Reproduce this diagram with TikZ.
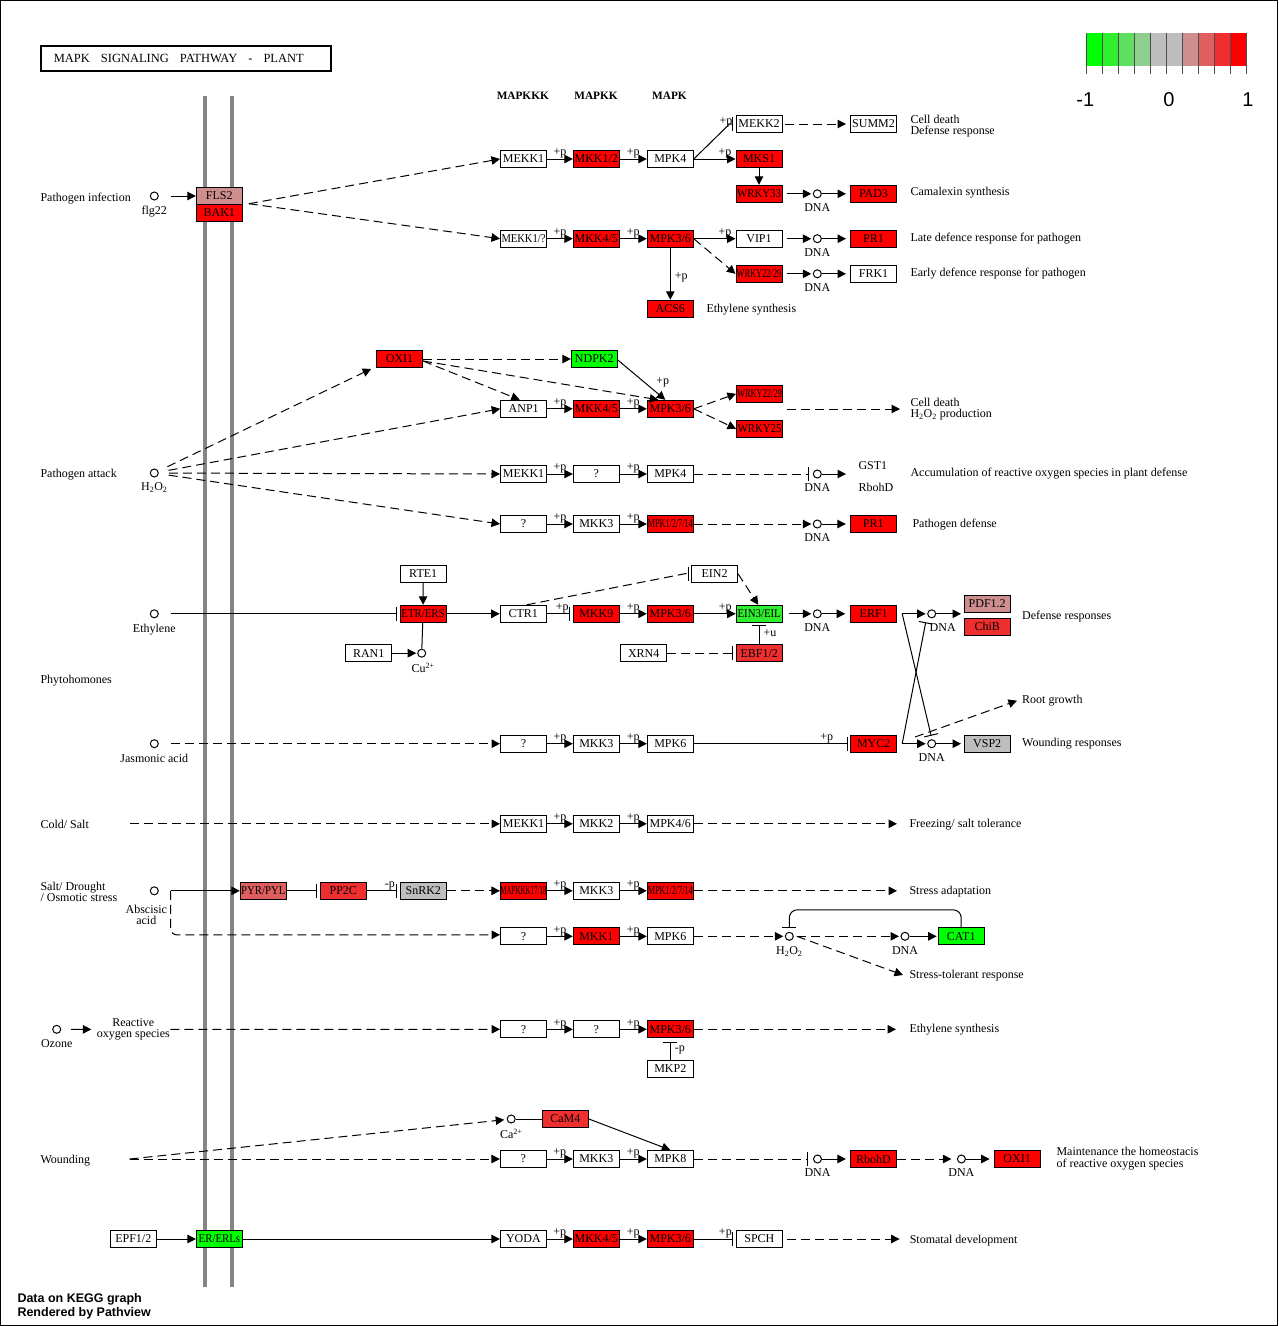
\documentclass[tikz,border=0pt]{standalone}
\usepackage{graphicx}
\usepackage{fontspec}
\setmainfont{Liberation Serif}
\setsansfont{Liberation Sans}
\usepackage{tikz}
\usetikzlibrary{arrows.meta,positioning,calc}

% expression scale (pathview bins)
\definecolor{c1}{HTML}{00FF00}
\definecolor{c2}{HTML}{2FEF2F}
\definecolor{c3}{HTML}{5FDF5F}
\definecolor{c4}{HTML}{8ECE8E}
\definecolor{c5}{HTML}{BEBEBE}
\definecolor{c6}{HTML}{BEBEBE}
\definecolor{c7}{HTML}{CE8E8E}
\definecolor{c8}{HTML}{DF5F5F}
\definecolor{c9}{HTML}{EF2F2F}
\definecolor{c10}{HTML}{FF0000}
\definecolor{membrane}{HTML}{858585}

\newcommand{\squeeze}[2]{\scalebox{#1}[1]{#2}}
\newcommand{\HtwoOtwo}{H\textsubscript{2}O\textsubscript{2}}

\tikzset{
  gene/.style={draw, line width=1pt, minimum width=46pt, minimum height=17pt, inner sep=0pt, font=\fontsize{12}{12}\selectfont},
  cpd/.style={circle, draw, line width=1pt, minimum size=8pt, inner sep=0pt, fill=white},
  sub/.style={font=\fontsize{12}{11}\selectfont, inner sep=0pt, align=center},
  lab/.style={sub, yshift=-5pt},
  dna/.style={cpd, label={[lab]below:DNA}},
  txt/.style={font=\fontsize{12}{11.3}\selectfont, inner sep=0pt, anchor=west, align=left},
  hdr/.style={font=\bfseries\fontsize{11.3}{12}\selectfont, inner sep=0pt},
  foot/.style={font=\sffamily\bfseries\fontsize{12.5}{13}\selectfont, inner sep=0pt, anchor=west},
  lgd/.style={font=\sffamily\fontsize{20}{20}\selectfont, inner sep=0pt},
  act/.style={-{Triangle[length=8.5pt,width=8.5pt]}},
  inh/.style={-{Bar[width=14pt]}, shorten >=2.5pt},
  dsh/.style={dash pattern=on 9pt off 5pt},
  pl/.style={font=\fontsize{12}{12}\selectfont, inner sep=0pt, above},
  plr/.style={font=\fontsize{12}{12}\selectfont, inner sep=0pt, anchor=west, xshift=4pt},
}

\begin{document}
\begin{tikzpicture}[x=1pt, y=-1pt, line width=1pt]

\useasboundingbox (0,0) rectangle (1278,1326);
\fill[white] (0,0) rectangle (1278,1326);
\draw (0.5,0.5) rectangle (1277.5,1325.5);

% Membrane
\draw[membrane, line width=4pt] (205,96) -- (205,1286.7);
\draw[membrane, line width=4pt] (232,96) -- (232,1286.7);

% Title and column heads
\node[draw, line width=1.8pt, minimum height=25pt, inner xsep=13pt, text width=264pt, align=left, font=\fontsize{12.5}{13}\selectfont] (title) at (185.8,58.4) {MAPK\hspace{11pt}SIGNALING\hspace{11pt}PATHWAY\hspace{11pt}-\hspace{11pt}PLANT};
\node[hdr] (hkkk) at (522.8,95.7) {MAPKKK};
\node[hdr] (hkk) at (596,95.7) {MAPKK};
\node[hdr] (hk) at (669.5,95.7) {MAPK};

% Legend
\foreach \i in {1,...,10}
  \fill[c\i] ({1070+16*\i},33.3) rectangle ({1086+16*\i},65.7);
\foreach \i in {0,...,10}
  \draw[black!70] ({1086+16*\i},33.3) -- ({1086+16*\i},74.3);
\node[lgd] (lgmin) at (1085.3,99.2) {-1};
\node[lgd] (lgmid) at (1169,99.2) {0};
\node[lgd] (lgmax) at (1248,99.2) {1};

% Pathogen infection
\node[txt] (pinf) at (40,199) {Pathogen infection};
\node[cpd, label={[lab]below:flg22}] (flg22) at (154.3,196) {};
\node[gene, fill=c7] (fls2) at (219.3,195.7) {FLS2};
\node[gene, fill=c10] (bak1) at (219.3,212.7) {BAK1};

\node[gene] (mekkA) at (523.5,159) {MEKK1};
\node[gene, fill=c10] (mkk12) at (596.3,159) {MKK1/2};
\node[gene] (mpk4A) at (670.3,159) {MPK4};
\node[gene, fill=c10] (mks1) at (759,159) {MKS1};
\node[gene] (mekk2) at (759,124) {MEKK2};
\node[gene] (summ2) at (873.5,124) {SUMM2};
\node[gene, fill=c10] (wrky33) at (759,193.8) {\squeeze{.9}{WRKY33}};
\node[dna] (dnaA) at (817.3,193.8) {};
\node[gene, fill=c10] (pad3) at (873.5,193.8) {PAD3};

\node[gene] (mekkB) at (523.5,238.7) {\squeeze{.88}{MEKK1/?}};
\node[gene, fill=c10] (mkk45A) at (596.3,238.7) {MKK4/5};
\node[gene, fill=c10] (mpk36A) at (670.3,238.7) {MPK3/6};
\node[gene] (vip1) at (759,238.7) {VIP1};
\node[dna] (dnaB) at (817.3,238.7) {};
\node[gene, fill=c10] (pr1A) at (873.5,238.7) {PR1};
\node[gene, fill=c10] (wrkyA) at (759,273.8) {\squeeze{.7}{WRKY22/29}};
\node[dna] (dnaC) at (817.3,273.8) {};
\node[gene] (frk1) at (873.5,273.8) {FRK1};
\node[gene, fill=c10] (acs6) at (670.3,308.8) {ACS6};

\node[txt] (lcell1) at (910,126.4) {Cell death\\Defense response};
\node[txt] (lcam) at (910,192.8) {Camalexin synthesis};
\node[txt] (llate) at (910,239) {Late defence response for pathogen};
\node[txt] (learly) at (910,274) {Early defence response for pathogen};
\node[txt] (leth1) at (706,309.7) {Ethylene synthesis};

\draw[act, shorten <=12pt] (flg22) -- (fls2.west |- flg22);
\draw[act, dsh] ([xshift=6pt]bak1.north east) -- (mekkA.west);
\draw[act, dsh] ([xshift=6pt]bak1.north east) -- (mekkB.west);
\draw[act] (mekkA) -- node[pl]{+p} (mkk12);
\draw[act] (mkk12) -- node[pl]{+p} (mpk4A);
\draw[act] (mpk4A) -- node[pl, pos=.75]{+p} (mks1);
\draw[inh] (mpk4A.east) -- node[pl, pos=.9]{+p} ([xshift=-6pt]mekk2.west) -- (mekk2.west);
\draw[act, dsh, shorten <=2pt, shorten >=4pt] (mekk2) -- (summ2);
\draw[act] (mks1) -- (wrky33);
\draw[act, shorten <=4pt, shorten >=1.5pt] (wrky33) -- (dnaA);
\draw[act, shorten >=4pt] (dnaA) -- (pad3);
\draw[act] (mekkB) -- node[pl]{+p} (mkk45A);
\draw[act] (mkk45A) -- node[pl]{+p} (mpk36A);
\draw[act] (mpk36A) -- node[pl, pos=.75]{+p} (vip1);
\draw[act, shorten <=4pt, shorten >=1.5pt] (vip1) -- (dnaB);
\draw[act, shorten >=4pt] (dnaB) -- (pr1A);
\draw[act, dsh] (mpk36A.east) -- (wrkyA.west);
\draw[act, shorten <=4pt, shorten >=1.5pt] (wrkyA) -- (dnaC);
\draw[act, shorten >=4pt] (dnaC) -- (frk1);
\draw[act] (mpk36A) -- node[plr, pos=.57]{+p} (acs6);

% Pathogen attack
\node[txt] (patt) at (40,475) {Pathogen attack};
\node[cpd, label={[lab]below:\HtwoOtwo}] (h2o2a) at (154.3,473) {};
\node[gene, fill=c10] (oxi1) at (399.5,359) {OXI1};
\node[gene, fill=c1] (ndpk2) at (594.3,359) {NDPK2};
\node[gene] (anp1) at (523.7,408.8) {ANP1};
\node[gene, fill=c10] (mkk45B) at (596.3,408.8) {MKK4/5};
\node[gene, fill=c10] (mpk36B) at (670.3,408.8) {MPK3/6};
\node[gene, fill=c10] (wrkyB) at (759.5,393.8) {\squeeze{.7}{WRKY22/29}};
\node[gene, fill=c10] (wrky25) at (759.5,428.8) {\squeeze{.9}{WRKY25}};
\coordinate (cdS) at (787,409);
\coordinate (cdE) at (900,409);
\node[txt] (lcell2) at (910,409.3) {Cell death\\\HtwoOtwo{} production};

\node[gene] (mekkC) at (523.5,474) {MEKK1};
\node[gene] (qA) at (596.3,474) {?};
\node[gene] (mpk4B) at (670.3,474) {MPK4};
\node[dna] (dnaD) at (817.3,474) {};
\coordinate (rosE) at (846,474);
\node[txt] (gst1) at (858,466) {GST1};
\node[txt] (rbohA) at (858,487.3) {RbohD};
\node[txt] (lacc) at (910,474) {Accumulation of reactive oxygen species in plant defense};

\node[gene] (qB) at (523.5,524) {?};
\node[gene] (mkk3A) at (596.3,524) {MKK3};
\node[gene, fill=c10] (mpk1A) at (670.3,524) {\squeeze{.68}{MPK1/2/7/14}};
\node[dna] (dnaE) at (817.3,524) {};
\node[gene, fill=c10] (pr1B) at (873.3,524) {PR1};
\node[txt] (lpdef) at (912,524.3) {Pathogen defense};

\draw[act, dsh, shorten <=10pt, shorten >=2pt] (h2o2a) -- ([xshift=-3pt]oxi1.south west);
\draw[act, dsh, shorten <=10pt] (h2o2a) -- (anp1.west);
\draw[act, dsh, shorten <=10pt] (h2o2a) -- (mekkC.west);
\draw[act, dsh, shorten <=10pt] (h2o2a) -- (qB.west);
\draw[act, dsh] (oxi1) -- (ndpk2);
\draw[act, dsh] ([yshift=-2pt]oxi1.east) -- ([xshift=-4pt]anp1.north);
\draw[act, dsh] ([yshift=-2pt]oxi1.east) -- ([xshift=-12pt]mpk36B.north);
\draw[act] ([yshift=-1pt]ndpk2.east) -- node[plr, pos=.55, xshift=8pt]{+p} ([xshift=-5pt]mpk36B.north);
\draw[act] (anp1) -- node[pl]{+p} (mkk45B);
\draw[act] (mkk45B) -- node[pl]{+p} (mpk36B);
\draw[act, dsh] (mpk36B.east) -- (wrkyB.west);
\draw[act, dsh] (mpk36B.east) -- (wrky25.west);
\draw[act, dsh] (cdS) -- (cdE);
\draw[act] (mekkC) -- node[pl]{+p} (qA);
\draw[act] (qA) -- node[pl]{+p} (mpk4B);
\draw[inh, dsh, shorten >=4pt] (mpk4B) -- (dnaD);
\draw[act] (dnaD) -- (rosE);
\draw[act] (qB) -- node[pl]{+p} (mkk3A);
\draw[act] (mkk3A) -- node[pl]{+p} (mpk1A);
\draw[act, dsh, shorten >=1.5pt] (mpk1A) -- (dnaE);
\draw[act, shorten >=4pt] (dnaE) -- (pr1B);

% Ethylene
\node[cpd, label={[lab]below:Ethylene}] (eth) at (154.3,613.8) {};
\node[gene] (rte1) at (423.2,573.7) {RTE1};
\node[gene, fill=c10] (etr) at (423,613.8) {\squeeze{.9}{ETR/ERS}};
\node[cpd, label={[lab, xshift=1.5pt]below:Cu\textsuperscript{2+}}] (cu) at (421.7,653.2) {};
\node[gene] (ran1) at (368.7,653.2) {RAN1};
\node[gene] (ctr1) at (523.2,613.8) {CTR1};
\node[gene, fill=c10] (mkk9) at (596.3,613.8) {MKK9};
\node[gene, fill=c10] (mpk36C) at (670.3,613.8) {MPK3/6};
\node[gene, fill=c2] (ein3) at (759.2,613.8) {\squeeze{.9}{EIN3/EIL}};
\node[gene] (ein2) at (714.5,573.7) {EIN2};
\node[gene] (xrn4) at (643.7,653.2) {XRN4};
\node[gene, fill=c9] (ebf) at (759.2,653.2) {EBF1/2};
\node[dna] (dnaF) at (817.3,613.8) {};
\node[gene, fill=c10] (erf1) at (873.7,613.8) {ERF1};
\node[cpd, label={[lab, xshift=11pt]below:DNA}] (dnaG) at (931.7,613.8) {};
\node[gene, fill=c7] (pdf) at (987.2,603.7) {PDF1.2};
\node[gene, fill=c9] (chib) at (987.2,626.8) {ChiB};
\coordinate (defE) at (961,613.8);
\node[txt] (ldef) at (1021.7,616.7) {Defense responses};
\node[txt] (lphy) at (40,681) {Phytohomones};

\draw[inh, shorten <=12pt] (eth) -- (etr);
\draw[act] (rte1) -- (etr);
\draw (etr) -- (cu);
\draw[act, shorten >=1pt] (ran1) -- (cu);
\draw[act] (etr) -- (ctr1);
\draw[inh] (ctr1) -- node[pl, pos=.6]{+p} (mkk9);
\draw[act] (mkk9) -- node[pl]{+p} (mpk36C);
\draw[act] (mpk36C) -- node[pl, pos=.75]{+p} (ein3);
\draw[inh, dsh] ([xshift=3.5pt]ctr1.north) -- ([xshift=-6pt]ein2.west) -- (ein2.west);
\draw[act, dsh] (ein2.east) -- ([xshift=-1pt]ein3.north);
\draw[inh] (ebf) -- node[plr]{+u} (ein3);
\draw[inh, dsh] (xrn4) -- (ebf);
\draw[act, shorten <=6pt, shorten >=1.5pt] (ein3) -- (dnaF);
\draw[act, shorten >=5pt] (dnaF) -- (erf1);
\draw[act, shorten <=5pt, shorten >=1.5pt] (erf1) -- (dnaG);
\draw[act] (dnaG) -- (defE);

% Jasmonic acid
\node[cpd, label={[lab]below:Jasmonic acid}] (ja) at (154.3,743.7) {};
\node[gene] (qC) at (523.5,743.7) {?};
\node[gene] (mkk3B) at (596.3,743.7) {MKK3};
\node[gene] (mpk6A) at (670.3,743.7) {MPK6};
\node[gene, fill=c10] (myc2) at (873.7,743.7) {MYC2};
\node[dna] (dnaH) at (931.7,743.7) {};
\node[gene, fill=c5] (vsp2) at (987.2,743.7) {VSP2};
\coordinate (jaE) at (961,743.7);
\coordinate (rootS) at (915,737);
\coordinate (rootE) at (1017,700.7);
\node[txt] (lroot) at (1021.7,700.7) {Root growth};
\node[txt] (lwound) at (1021.7,744) {Wounding responses};

\draw[act, dsh, shorten <=12pt] (ja) -- (qC);
\draw[act] (qC) -- node[pl]{+p} (mkk3B);
\draw[act] (mkk3B) -- node[pl]{+p} (mpk6A);
\draw[inh] (mpk6A) -- node[pl, pos=.85]{+p} (myc2);
\draw[act, shorten <=5pt, shorten >=1.5pt] (myc2) -- (dnaH);
\draw[act] (dnaH) -- (jaE);
\draw[inh] ([xshift=5pt]erf1.east) -- ([yshift=1pt]dnaH.north);
\draw[inh] ([xshift=5pt]myc2.east) -- ([xshift=-5.5pt,yshift=-1.5pt]dnaG.south);
\draw[act, dsh] (rootS) -- (rootE);

% Cold / salt
\node[txt] (lcold) at (40,824.5) {Cold/ Salt};
\coordinate (coldS) at (130,823.8);
\node[gene] (mekkD) at (523.5,823.8) {MEKK1};
\node[gene] (mkk2) at (596.3,823.8) {MKK2};
\node[gene] (mpk46) at (670.3,823.8) {MPK4/6};
\coordinate (coldE) at (897,823.8);
\node[txt] (lfreeze) at (909,824.5) {Freezing/ salt tolerance};

\draw[act, dsh] (coldS) -- (mekkD);
\draw[act] (mekkD) -- node[pl]{+p} (mkk2);
\draw[act] (mkk2) -- node[pl]{+p} (mpk46);
\draw[act, dsh] (mpk46) -- (coldE);

% Salt / drought
\node[txt] (lsalt) at (40,892) {Salt/ Drought\\/ Osmotic stress};
\node[cpd, label={[lab, xshift=-8pt, yshift=-4pt]below:{Abscisic\\acid}}] (aba) at (154.3,890.8) {};
\node[gene, fill=c8] (pyr) at (263.3,890.8) {\squeeze{.9}{PYR/PYL}};
\node[gene, fill=c9] (pp2c) at (343.3,890.8) {PP2C};
\node[gene, fill=c5] (snrk2) at (423.3,890.8) {SnRK2};
\node[gene, fill=c10] (mapkkk) at (523.5,890.8) {\squeeze{.58}{MAPKKK17/18}};
\node[gene] (mkk3C) at (596.3,890.8) {MKK3};
\node[gene, fill=c10] (mpk1B) at (670.3,890.8) {\squeeze{.68}{MPK1/2/7/14}};
\coordinate (saltE) at (897,890.8);
\node[txt] (lstress) at (909,891.5) {Stress adaptation};

\node[gene] (qD) at (523.5,936.3) {?};
\node[gene, fill=c10] (mkk1) at (596.3,936.3) {MKK1};
\node[gene] (mpk6B) at (670.3,936.3) {MPK6};
\node[cpd, label={[lab]below:\HtwoOtwo}] (h2o2b) at (789.3,936.3) {};
\node[dna] (dnaI) at (905,936.3) {};
\node[gene, fill=c1] (cat1) at (961.2,936.3) {CAT1};
\coordinate (stolE) at (903,975);
\node[txt] (lstol) at (909,976) {Stress-tolerant response};

\draw[act, shorten <=12pt] (aba) -- (pyr);
\draw[act, dsh, rounded corners=6pt] ([xshift=16.4pt]aba.center) |- ([yshift=1.5pt]qD.west);
\draw[inh] (pyr) -- (pp2c);
\draw[inh] (pp2c) -- node[pl, pos=.7]{-p} (snrk2);
\draw[act, dsh] (snrk2) -- (mapkkk);
\draw[act] (mapkkk) -- node[pl]{+p} (mkk3C);
\draw[act] (mkk3C) -- node[pl]{+p} (mpk1B);
\draw[act, dsh] (mpk1B) -- (saltE);
\draw[act] (qD) -- node[pl]{+p} (mkk1);
\draw[act] (mkk1) -- node[pl]{+p} (mpk6B);
\draw[act, dsh, shorten >=1.5pt] (mpk6B) -- (h2o2b);
\draw[act, dsh, shorten <=3pt, shorten >=1.5pt] (h2o2b) -- (dnaI);
\draw[act, shorten >=1pt] (dnaI) -- (cat1);
\draw[inh, rounded corners=8pt] (cat1.north) -- ++(0,-17.5) -| ([yshift=1.5pt]h2o2b.north);
\draw[act, dsh] ([xshift=3pt]h2o2b.east) -- (stolE);

% Ozone
\node[cpd, label={[lab]below:Ozone}] (oz) at (56.7,1029.3) {};
\node[sub] (ros) at (133.3,1029.5) {Reactive\\oxygen species};
\node[gene] (qE) at (523.5,1029.3) {?};
\node[gene] (qF) at (596.3,1029.3) {?};
\node[gene, fill=c10] (mpk36D) at (670.3,1029.3) {MPK3/6};
\node[gene] (mkp2) at (670.3,1068.5) {MKP2};
\coordinate (ozE) at (896,1029.3);
\node[txt] (leth2) at (909,1030) {Ethylene synthesis};

\draw[act, shorten <=10pt, shorten >=5pt] (oz) -- (ros);
\draw[act, dsh] (ros) -- (qE);
\draw[act] (qE) -- node[pl]{+p} (qF);
\draw[act] (qF) -- node[pl]{+p} (mpk36D);
\draw[act, dsh] (mpk36D) -- (ozE);
\draw[inh] (mkp2) -- node[plr]{-p} ([yshift=-1.5pt]mpk36D.south);

% Wounding
\node[txt] (lwnd) at (40,1160.3) {Wounding};
\coordinate (wndS) at (129.5,1159);
\node[cpd, label={[lab]below:Ca\textsuperscript{2+}}] (ca) at (511.2,1119) {};
\node[gene, fill=c9] (cam4) at (565.4,1119) {CaM4};
\node[gene] (qG) at (523.4,1159) {?};
\node[gene] (mkk3D) at (596.3,1159) {MKK3};
\node[gene] (mpk8) at (670.3,1159) {MPK8};
\node[dna] (dnaJ) at (817.5,1159) {};
\node[gene, fill=c10] (rbohB) at (873.4,1159) {RbohD};
\node[dna] (dnaK) at (961.4,1159) {};
\node[gene, fill=c10] (oxi1b) at (1017.1,1159) {OXI1};
\node[txt] (lmaint) at (1056,1158.7) {Maintenance the homeostacis\\of reactive oxygen species};

\draw[act, dsh] (wndS) -- (qG);
\draw[act, dsh, shorten >=2.5pt] (wndS) -- (ca);
\draw (ca) -- (cam4);
\draw[act] (cam4.east) -- (mpk8.north);
\draw[act] (qG) -- node[pl]{+p} (mkk3D);
\draw[act] (mkk3D) -- node[pl]{+p} (mpk8);
\draw[inh, dsh, shorten >=5pt] (mpk8) -- (dnaJ);
\draw[act, shorten >=4pt] (dnaJ) -- (rbohB);
\draw[act, dsh, shorten >=5.5pt] (rbohB) -- (dnaK);
\draw[act, shorten >=4pt] (dnaK) -- (oxi1b);

% Stomatal development
\node[gene] (epf) at (133.3,1239) {EPF1/2};
\node[gene, fill=c1] (er) at (219.4,1239) {\squeeze{.9}{ER/ERLs}};
\node[gene] (yoda) at (523.4,1239) {YODA};
\node[gene, fill=c10] (mkk45C) at (596.3,1239) {MKK4/5};
\node[gene, fill=c10] (mpk36E) at (670.3,1239) {MPK3/6};
\node[gene] (spch) at (759.4,1239) {SPCH};
\coordinate (stomE) at (899.6,1239);
\node[txt] (lstom) at (909.3,1240.7) {Stomatal development};

\draw[act] (epf) -- (er);
\draw[act] (er) -- (yoda);
\draw[act] (yoda) -- node[pl]{+p} (mkk45C);
\draw[act] (mkk45C) -- node[pl]{+p} (mpk36E);
\draw[inh] (mpk36E) -- node[pl, pos=.75]{+p} (spch);
\draw[act, dsh, shorten <=4pt] (spch) -- (stomE);

% Footer
\node[foot] (fdata) at (17,1299) {Data on KEGG graph};
\node[foot] (frend) at (17,1313) {Rendered by Pathview};

\end{tikzpicture}
\end{document}
